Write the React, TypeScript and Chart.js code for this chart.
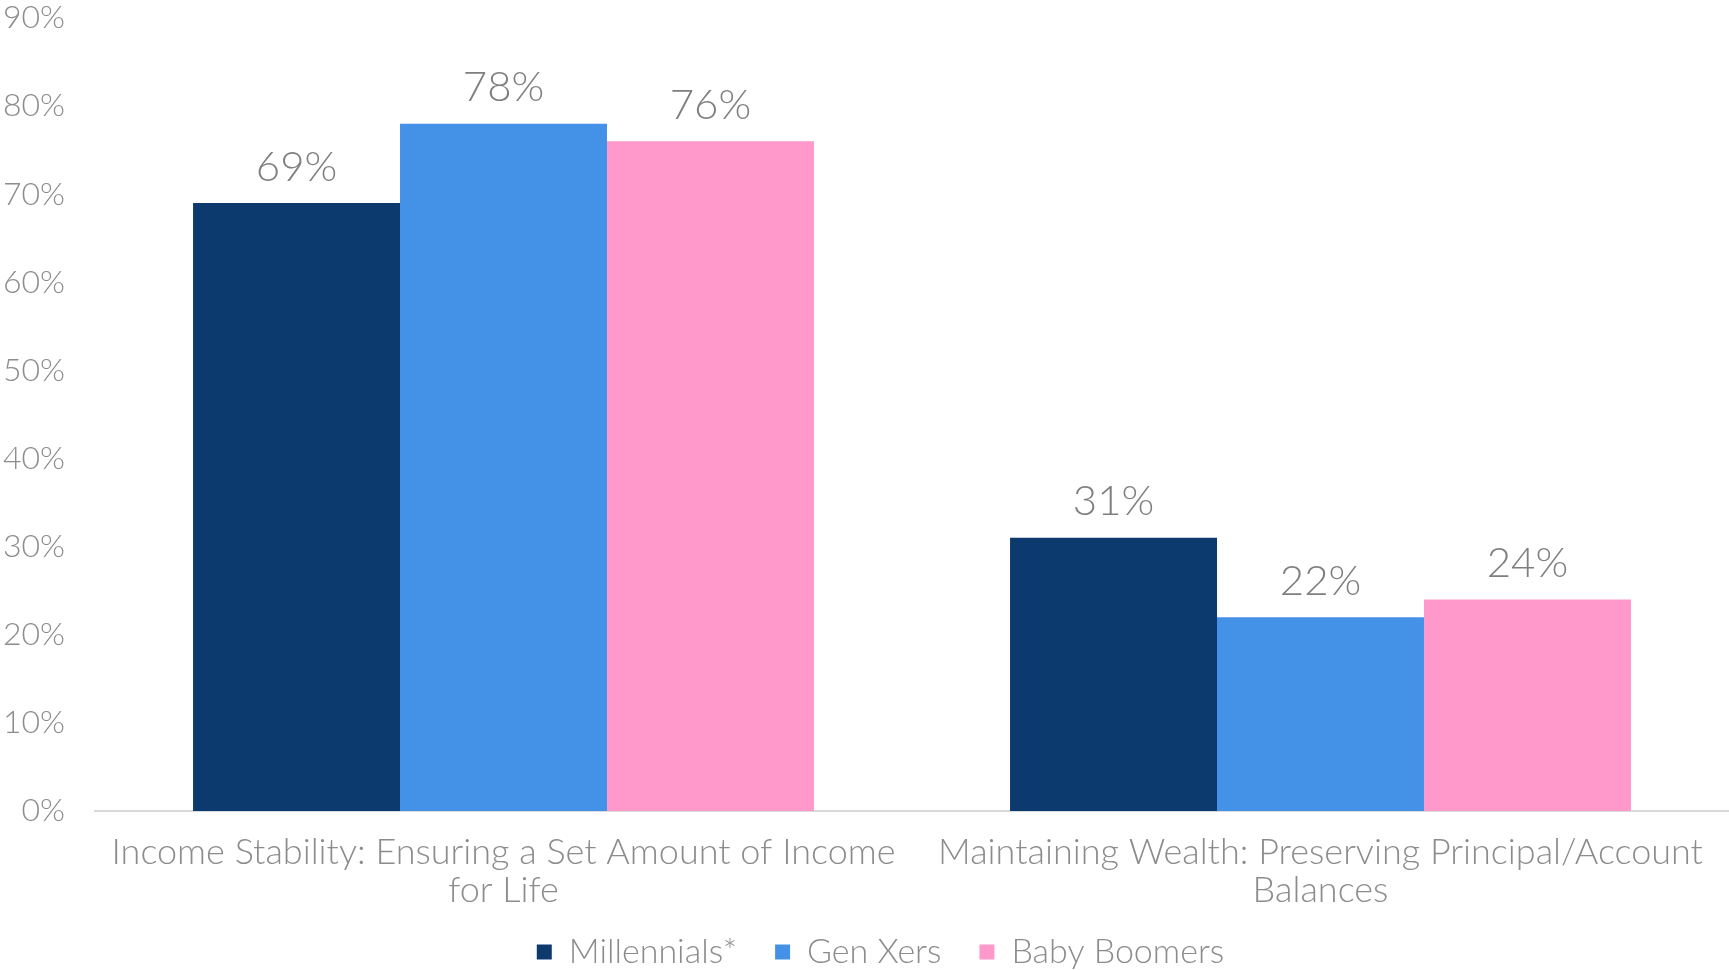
import React, { useEffect, useRef } from "react";
import { Chart, registerables } from "chart.js";

Chart.register(...registerables);

const categories: string[][] = [
  ["Income Stability: Ensuring a Set Amount of Income", "for Life"],
  ["Maintaining Wealth: Preserving Principal/Account", "Balances"],
];
const seriesNames = ["Millennials*", "Gen Xers", "Baby Boomers"];
const millennials = [69, 31];
const genXers = [78, 22];
const babyBoomers = [76, 24];
const seriesColors = ["#0D3A6E", "#4492E8", "#FF99CC"];
const yTicks = [0, 10, 20, 30, 40, 50, 60, 70, 80, 90];

const FONT = "Lato";

const labelPlugin = {
  id: "barLabels",
  beforeDraw(chart: any) {
    // let the multi-line category labels extend below the axis box
    if (chart.scales.x) chart.scales.x.bottom = chart.height;
    if (chart.legend) {
      chart.legend.left += 16;
      chart.legend.right += 16;
    }
  },
  afterDatasetsDraw(chart: any) {
    const ctx = chart.ctx;
    ctx.save();
    ctx.font = `300 42px ${FONT}`;
    ctx.fillStyle = "#7F7F7F";
    ctx.textAlign = "center";
    ctx.textBaseline = "bottom";
    chart.data.datasets.forEach((ds: any, i: number) => {
      const meta = chart.getDatasetMeta(i);
      meta.data.forEach((bar: any, j: number) => {
        ctx.fillText(ds.data[j] + "%", bar.x, bar.y - 15);
      });
    });
    ctx.restore();
  },
};

export default function App() {
  const ref = useRef<HTMLCanvasElement>(null);
  useEffect(() => {
    document.body.style.margin = "0";
    const values = [millennials, genXers, babyBoomers];
    const chart = new Chart(ref.current!, {
      type: "bar",
      data: {
        labels: categories,
        datasets: seriesNames.map((n, i) => ({
          label: n,
          data: values[i],
          backgroundColor: seriesColors[i],
          borderWidth: 0,
          barPercentage: 1,
          categoryPercentage: 0.76,
        })),
      },
      options: {
        animation: false,
        responsive: false,
        maintainAspectRatio: false,
        layout: { padding: { top: 18, right: 0, bottom: -9, left: 0 } },
        plugins: {
          tooltip: { enabled: false },
          legend: {
            position: "bottom",
            labels: {
              boxWidth: 15,
              boxHeight: 15,
              padding: 38,
              color: "#8C8C8C",
              font: { family: FONT, size: 34, weight: "300" },
            },
          },
        },
        scales: {
          x: {
            afterFit: (s: any) => {
              s.height = 86;
              s.paddingTop = 0;
              s.paddingBottom = 0;
            },
            grid: { display: false, drawTicks: false },
            border: { display: true, color: "#D9D9D9", width: 2 },
            ticks: {
              color: "#8C8C8C",
              padding: 22,
              maxRotation: 0,
              autoSkip: false,
              font: { family: FONT, size: 36, weight: "300", lineHeight: 1.056 },
            },
          },
          y: {
            min: 0,
            max: 90,
            afterBuildTicks: (s: any) => {
              s.ticks = yTicks.map((v) => ({ value: v }));
            },
            afterFit: (s: any) => {
              s.width = 95;
              s.paddingTop = 0;
              s.paddingBottom = 0;
            },
            grid: { display: false, drawTicks: false },
            border: { display: false },
            ticks: {
              color: "#8C8C8C",
              padding: 30,
              callback: (v: any) => v + "%",
              font: { family: FONT, size: 32, weight: "300" },
            },
          },
        },
      },
      plugins: [labelPlugin],
    });
    return () => chart.destroy();
  }, []);
  return (
    <div style={{ position: "fixed", left: 0, top: 0, width: 1729, height: 970, background: "#fff" }}>
      <canvas ref={ref} width={1729} height={970} style={{ width: 1729, height: 970 }} />
    </div>
  );
}
